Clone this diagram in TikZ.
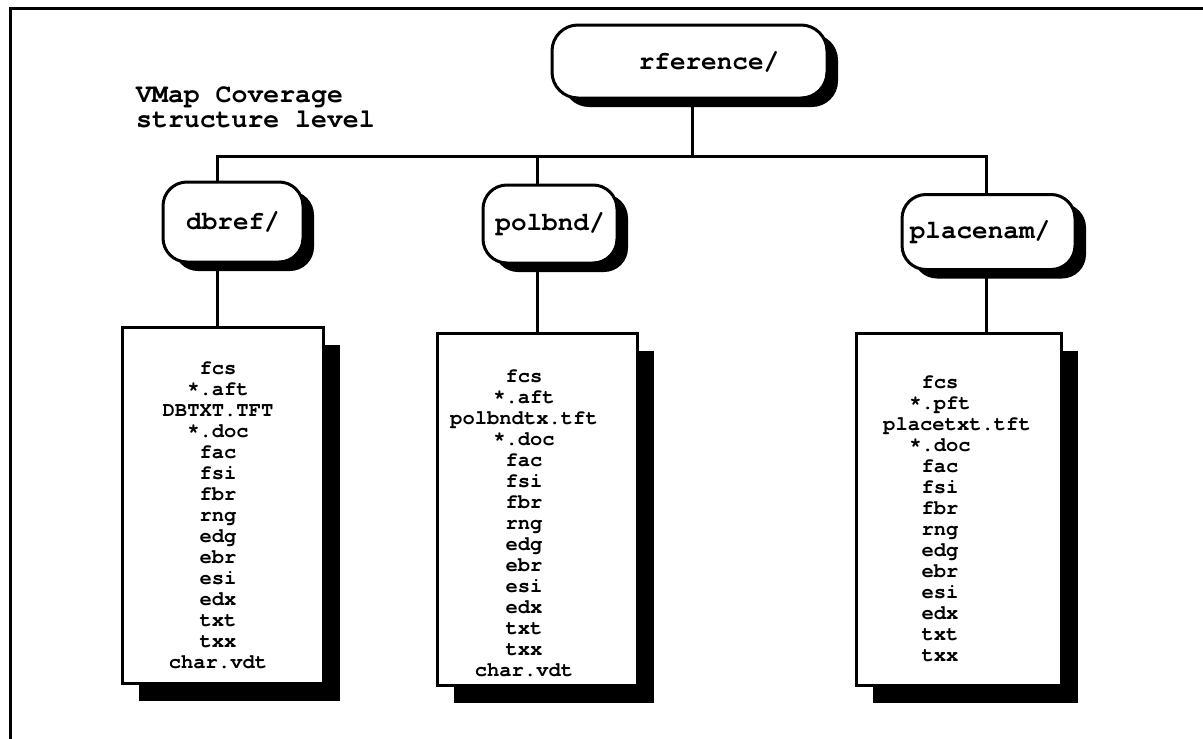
\documentclass[tikz,border=0pt]{standalone}
\usepackage{fontspec}
\setmonofont{TeX Gyre Cursor}
\usetikzlibrary{shadows}
\begin{document}
\begin{tikzpicture}[x=1pt,y=-1pt,
  wire/.style={line width=3pt},
  dirbox/.style={draw, line width=3pt, fill=white, rounded corners=24pt, inner sep=0pt,
    general shadow={fill=black, shadow xshift=11pt, shadow yshift=-9pt},
    font=\ttfamily\bfseries\fontsize{26}{26}\selectfont},
  dirlabel/.style={inner sep=0pt, font=\ttfamily\bfseries\fontsize{26}{26}\selectfont},
  listbox/.style={draw, line width=3pt, fill=white, inner sep=0pt,
    general shadow={fill=black, shadow xshift=17pt, shadow yshift=-18pt}},
  listtext/.style={align=center, inner sep=0pt,
    font=\ttfamily\bfseries\fontsize{20.5}{21}\selectfont},
  titletext/.style={align=left, inner sep=0pt, anchor=west,
    font=\ttfamily\bfseries\fontsize{26.5}{25}\selectfont}
]
\useasboundingbox (0,0) rectangle (1203,739);
\fill[white] (0,0) rectangle (1203,739);

% outer frame (open to the right and bottom)
\draw[line width=3pt] (10,739) -- (10,8) -- (1203,8);

% caption
\node[titletext] (title) at (136,107.5) {VMap Coverage\\structure level};

% directory nodes
\node[dirbox, rounded corners=26pt, minimum width=275pt, minimum height=73pt] (root) at (689.5,61.5) {};
\node[dirlabel] (rootlbl) at (709,62) {rference/};
\node[dirbox, minimum width=140pt, minimum height=80pt] (dbref) at (233,222) {dbref/};
\node[dirbox, minimum width=134pt, minimum height=78pt] (polbnd) at (550,224) {polbnd/};
\node[dirbox, minimum width=173pt, minimum height=75pt] (placenam) at (988.5,232) {};
\node[dirlabel] (placelbl) at (980,232) {placenam/};

% file list boxes
\node[listbox, minimum width=201pt, minimum height=356pt] (list1) at (222.5,505) {};
\node[listtext] (files1) at (218,515) {fcs\\*.aft\\DBTXT.TFT\\*.doc\\fac\\fsi\\fbr\\rng\\edg\\ebr\\esi\\edx\\txt\\txx\\char.vdt};
\node[listbox, minimum width=200pt, minimum height=352pt] (list2) at (537,509) {};
\node[listtext] (files2) at (524,523.5) {fcs\\*.aft\\polbndtx.tft\\*.doc\\fac\\fsi\\fbr\\rng\\edg\\ebr\\esi\\edx\\txt\\txx\\char.vdt};
\node[listbox, minimum width=205pt, minimum height=352pt] (list3) at (958.5,509) {};
\node[listtext] (files3) at (940,518.5) {fcs\\*.pft\\\hspace*{34pt}placetxt.tft\\*.doc\\fac\\fsi\\fbr\\rng\\edg\\ebr\\esi\\edx\\txt\\txx};

% tree connectors
\coordinate (busL) at (217,156);
\coordinate (busM) at (537,156);
\coordinate (busR) at (986,156);
\coordinate (busT) at (692,156);
\draw[wire] (busT |- root.south) -- (busT);
\draw[wire] (busL |- dbref.north) -- (busL) -- (busR) -- (busR |- placenam.north);
\draw[wire] (busM) -- (busM |- polbnd.north);
\draw[wire] (busL |- dbref.south) -- (busL |- list1.north);
\draw[wire] (busM |- polbnd.south) -- (busM |- list2.north);
\draw[wire] (busR |- placenam.south) -- (busR |- list3.north);
\end{tikzpicture}
\end{document}
